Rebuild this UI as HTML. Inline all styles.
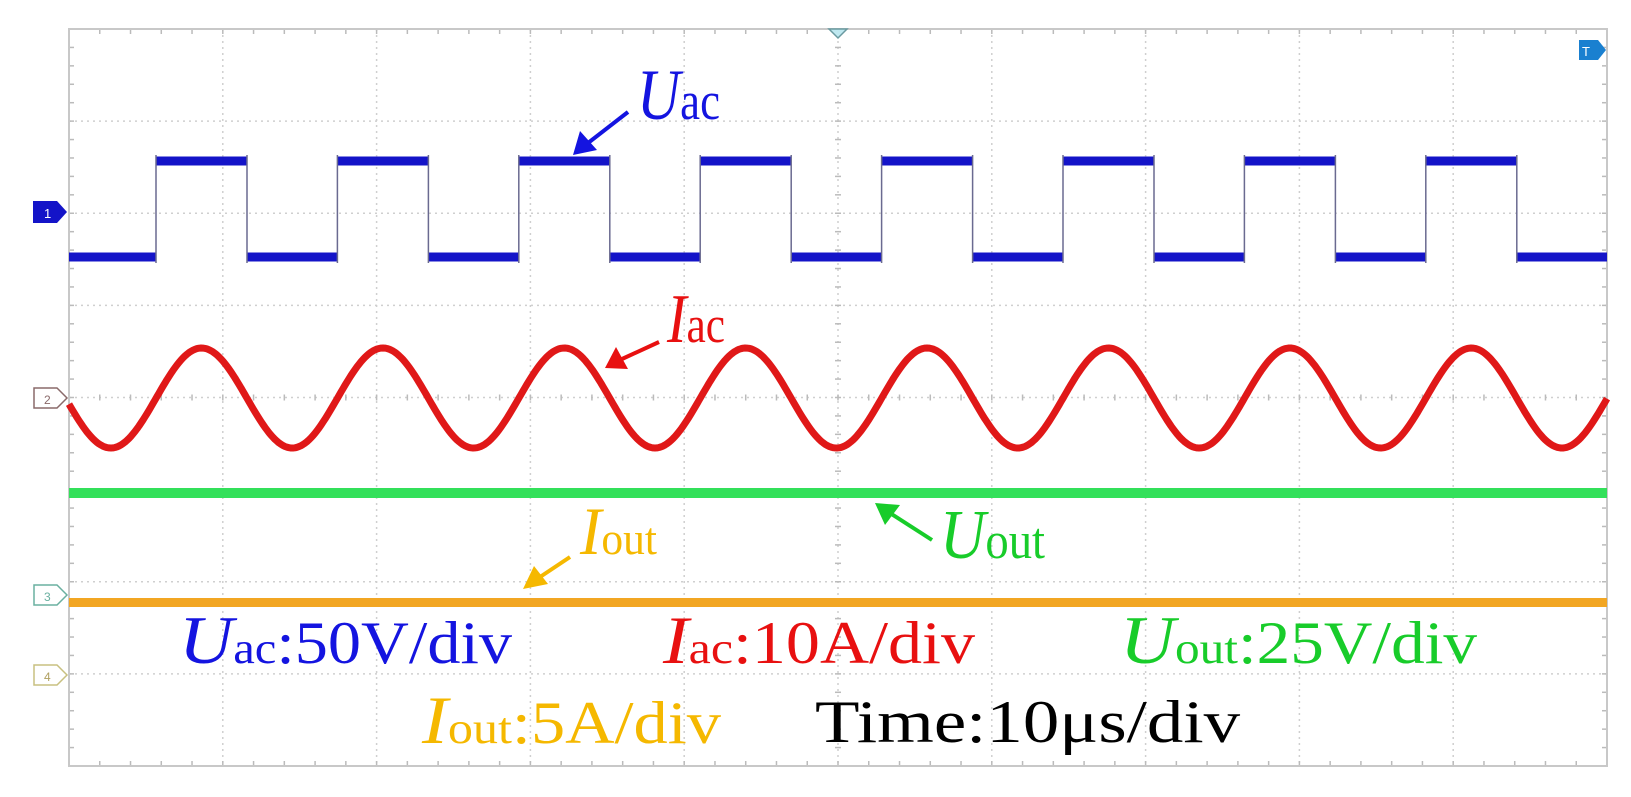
<!DOCTYPE html>
<html><head><meta charset="utf-8"><style>
html,body{margin:0;padding:0;background:#fff;}
svg{display:block;font-family:"Liberation Serif",serif;}
</style></head><body>
<svg id="s" width="1631" height="797" viewBox="0 0 1631 797" xmlns="http://www.w3.org/2000/svg">
<g id="grid"></g>
<rect x="69" y="29" width="1538" height="737" fill="none" stroke="#c8c8c8" stroke-width="2"/>
<path id="uac" fill="none" stroke="#1414c8" stroke-width="9"/>
<path id="uace" fill="none" stroke="#6a6a90" stroke-width="1.5"/>
<path id="iac" fill="none" stroke="#e01818" stroke-width="7" stroke-linejoin="round"/>
<rect x="69" y="488" width="1538" height="10" fill="#33e05a"/>
<rect x="69" y="598" width="1538" height="9" fill="#f2a623"/>
<path d="M33,201 H57 L67,212 L57,223 H33 Z" fill="#1414c8"/>
<text x="44" y="218" font-size="13" fill="#fff" font-family="Liberation Sans,sans-serif">1</text>
<path d="M34,388 H57 L67,398 L57,408 H34 Z" fill="#fff" stroke="#8a6a6a" stroke-width="1.5"/>
<text x="44" y="404" font-size="12" fill="#8a6a6a" font-family="Liberation Sans,sans-serif">2</text>
<path d="M34,585 H57 L67,595 L57,605 H34 Z" fill="#fff" stroke="#6ab0a0" stroke-width="1.5"/>
<text x="44" y="601" font-size="12" fill="#6ab0a0" font-family="Liberation Sans,sans-serif">3</text>
<path d="M34,665 H57 L67,675 L57,685 H34 Z" fill="#fff" stroke="#c8c080" stroke-width="1.5"/>
<text x="44" y="681" font-size="12" fill="#b0a060" font-family="Liberation Sans,sans-serif">4</text>
<path d="M829,29 L847,29 L838,38 Z" fill="#bfe8f0" stroke="#6a9aa0" stroke-width="1.5"/>
<path d="M1579,40 H1598 L1606,50 L1598,60 H1579 Z" fill="#1a80d0"/>
<text x="1582" y="56" font-size="13" fill="#fff" font-family="Liberation Sans,sans-serif">T</text>
<g stroke-width="4">
<line x1="628" y1="112" x2="588" y2="143" stroke="#1414e0"/>
<path d="M573,155 L580,131 L597,150 Z" fill="#1414e0"/>
<line x1="659" y1="342" x2="622" y2="359" stroke="#e81010"/>
<path d="M605,368 L616,347 L628,369 Z" fill="#e81010"/>
<line x1="932" y1="540" x2="890" y2="513" stroke="#18cc2a"/>
<path d="M875,503 L900,505 L885,525 Z" fill="#18cc2a"/>
<line x1="570" y1="557" x2="537" y2="579" stroke="#f5b800"/>
<path d="M523,589 L534,566 L548,584 Z" fill="#f5b800"/>
</g>
<text x="637" y="119" fill="#1414e0" textLength="83" lengthAdjust="spacingAndGlyphs"><tspan font-style="italic" font-size="72">U</tspan><tspan font-size="54">ac</tspan></text>
<text x="667" y="342" fill="#e81010" textLength="58" lengthAdjust="spacingAndGlyphs"><tspan font-style="italic" font-size="70">I</tspan><tspan font-size="52">ac</tspan></text>
<text x="940" y="558" fill="#18cc2a" textLength="105" lengthAdjust="spacingAndGlyphs"><tspan font-style="italic" font-size="70">U</tspan><tspan font-size="52">out</tspan></text>
<text x="580" y="554" fill="#f5b800" textLength="77" lengthAdjust="spacingAndGlyphs"><tspan font-style="italic" font-size="68">I</tspan><tspan font-size="46">out</tspan></text>
<text x="179" y="663" fill="#1414e0" textLength="333" lengthAdjust="spacingAndGlyphs"><tspan font-style="italic" font-size="68">U</tspan><tspan font-size="44">ac</tspan><tspan font-size="60">:50V/div</tspan></text>
<text x="663" y="663" fill="#e81010" textLength="312" lengthAdjust="spacingAndGlyphs"><tspan font-style="italic" font-size="68">I</tspan><tspan font-size="44">ac</tspan><tspan font-size="60">:10A/div</tspan></text>
<text x="1120" y="663" fill="#18cc2a" textLength="357" lengthAdjust="spacingAndGlyphs"><tspan font-style="italic" font-size="68">U</tspan><tspan font-size="44">out</tspan><tspan font-size="60">:25V/div</tspan></text>
<text x="422" y="743" fill="#f5b800" textLength="299" lengthAdjust="spacingAndGlyphs"><tspan font-style="italic" font-size="68">I</tspan><tspan font-size="44">out</tspan><tspan font-size="60">:5A/div</tspan></text>
<text x="815" y="742" fill="#000" font-size="60" textLength="425" lengthAdjust="spacingAndGlyphs">Time:10μs/div</text>
</svg>
<script>
(function(){
var g=document.getElementById('grid'),h='';
var L=69,R=1607,T=29,B=766,dx=(R-L)/10,dy=(B-T)/8;
for(var i=1;i<10;i++){var x=L+i*dx;h+='<line x1="'+x+'" y1="'+T+'" x2="'+x+'" y2="'+B+'" stroke="#cfcfcf" stroke-width="1.5" stroke-dasharray="2,4"/>';}
for(var j=1;j<8;j++){var y=T+j*dy;h+='<line x1="'+L+'" y1="'+y+'" x2="'+R+'" y2="'+y+'" stroke="#cfcfcf" stroke-width="1.5" stroke-dasharray="2,4"/>';}
var cx=L+5*dx,cy=T+4*dy;
for(var k=1;k<50;k++){var x=L+k*dx/5;
h+='<line x1="'+x+'" y1="'+T+'" x2="'+x+'" y2="'+(T+5)+'" stroke="#bbb" stroke-width="1.5"/>';
h+='<line x1="'+x+'" y1="'+B+'" x2="'+x+'" y2="'+(B-5)+'" stroke="#bbb" stroke-width="1.5"/>';
h+='<line x1="'+x+'" y1="'+(cy-3)+'" x2="'+x+'" y2="'+(cy+3)+'" stroke="#bbb" stroke-width="1.5"/>';}
for(var k=1;k<40;k++){var y=T+k*dy/5;
h+='<line x1="'+L+'" y1="'+y+'" x2="'+(L+5)+'" y2="'+y+'" stroke="#bbb" stroke-width="1.5"/>';
h+='<line x1="'+R+'" y1="'+y+'" x2="'+(R-5)+'" y2="'+y+'" stroke="#bbb" stroke-width="1.5"/>';
h+='<line x1="'+(cx-3)+'" y1="'+y+'" x2="'+(cx+3)+'" y2="'+y+'" stroke="#bbb" stroke-width="1.5"/>';}
g.innerHTML=h;
var P=181.4,hi=161,lo=257,d='',e='';
var x0=L;
for(var k=0;k<8;k++){var r=156+k*P,f=r+91;
d+='M'+x0+','+lo+'H'+r+'M'+r+','+hi+'H'+f;
e+='M'+r+','+(lo+6)+'V'+(hi-6)+'M'+f+','+(hi-6)+'V'+(lo+6);
x0=f;}
d+='M'+x0+','+lo+'H'+R;
document.getElementById('uac').setAttribute('d',d);
document.getElementById('uace').setAttribute('d',e);
var p='';
for(var x=L;x<=R;x+=2){var y=398-50*Math.cos(2*Math.PI*(x-201.5)/P);p+=(x==L?'M':'L')+x+','+y.toFixed(1);}
document.getElementById('iac').setAttribute('d',p);
})();
</script>
</body></html>
